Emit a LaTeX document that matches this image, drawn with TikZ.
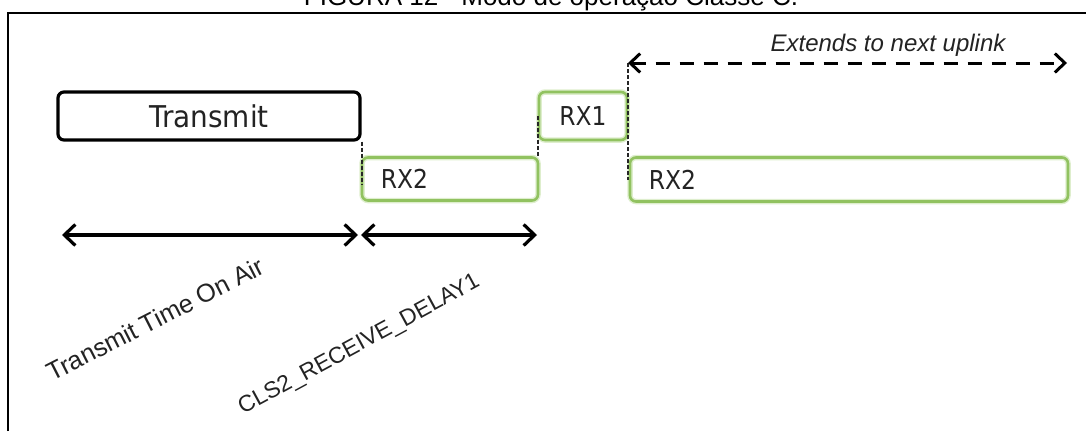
\documentclass[tikz,border=0pt]{standalone}
\usepackage{fontspec}
\setmainfont{Liberation Sans}
\newfontfamily\boxfont[FakeStretch=0.93]{DejaVu Sans}
\newfontfamily\rxfont[FakeStretch=0.9]{DejaVu Sans}
\usetikzlibrary{arrows.meta}
\definecolor{rxgreen}{RGB}{145,194,96}
\definecolor{rxglow}{RGB}{222,238,205}
\definecolor{txtgray}{RGB}{35,35,35}
\begin{document}
\begin{tikzpicture}[x=1pt,y=-1pt,
  txbox/.style={draw=black, line width=3.2pt, rounded corners=6pt, inner sep=0pt,
    font=\boxfont\fontsize{30}{34}\selectfont, text=txtgray},
  rxbox/.style={draw=rxgreen, line width=2.6pt, rounded corners=6pt, inner sep=0pt,
    preaction={draw=rxglow, line width=5.5pt}},
  rxtext/.style={font=\rxfont\fontsize{26}{30}\selectfont, text=txtgray, inner sep=0pt},
  lbl/.style={font=\fontsize{23}{27}\selectfont, text=txtgray, inner sep=0pt},
  vdash/.style={black!85, line width=1.8pt, dash pattern=on 4pt off 2pt},
  timearrow/.style={black, line width=3.2pt, {Straight Barb[length=11pt,width=21pt]}-{Straight Barb[length=11pt,width=21pt]}},
  extarrow/.style={black, line width=3pt, dash pattern=on 14pt off 10pt,
    {Straight Barb[length=10pt,width=19pt]}-{Straight Barb[length=10pt,width=19pt]}}
]
\useasboundingbox (0,0) rectangle (1086,431);
\clip (0,0) rectangle (1086,431);
% title (cut by the top edge)
\node[font=\fontsize{26}{30}\selectfont, anchor=base, inner sep=0pt] (title) at (551,5.5)
  {FIGURA 12 - Modo de operação Classe C.};
% frame
\draw[line width=2.2pt] (8,431) -- (8,13) -- (1090,13);
% boxes
\node[txbox, minimum width=302pt, minimum height=48pt] (tx) at (209,116) {Transmit};
\node[rxbox, minimum width=176pt, minimum height=43pt] (rx2a) at (450,179) {};
\node[rxtext, anchor=west] (rx2atext) at ([xshift=20pt]rx2a.west) {RX2};
\node[rxbox, minimum width=88pt, minimum height=48pt] (rx1) at (583,116) {};
\node[rxtext] (rx1text) at (rx1.center) {RX1};
\node[rxbox, minimum width=438pt, minimum height=44pt] (rx2b) at (849,179.5) {};
\node[rxtext, anchor=west] (rx2btext) at ([xshift=20pt]rx2b.west) {RX2};
% dashed guide lines
\coordinate (e0) at (628,63);
\coordinate (e1) at (1067,63);
\draw[vdash] (tx.south east) -- ++(0,43);
\draw[vdash] (rx1.west) -- (rx1.west |- rx2a.north);
\draw[vdash] (e0) -- (e0 |- rx2b.center);
% extends arrow
\draw[extarrow] (e0) -- (e1);
\node[lbl, font=\itshape\fontsize{24}{28}\selectfont, anchor=base] (ext) at (888,51) {Extends to next uplink};
% time arrows
\coordinate (a0) at (62,235);
\coordinate (a1) at (358,235);
\coordinate (a2) at (361,235);
\coordinate (a3) at (537,235);
\draw[timearrow] (a0) -- (a1);
\draw[timearrow] (a2) -- (a3);
% rotated labels
\node[lbl, font=\fontsize{25.5}{29}\selectfont, rotate=27, anchor=base west] (toa) at (52,382) {Transmit Time On Air};
\node[lbl, rotate=28.5, anchor=base west] (rd1) at (243,415) {CLS2\_RECEIVE\_DELAY1};
\end{tikzpicture}
\end{document}
